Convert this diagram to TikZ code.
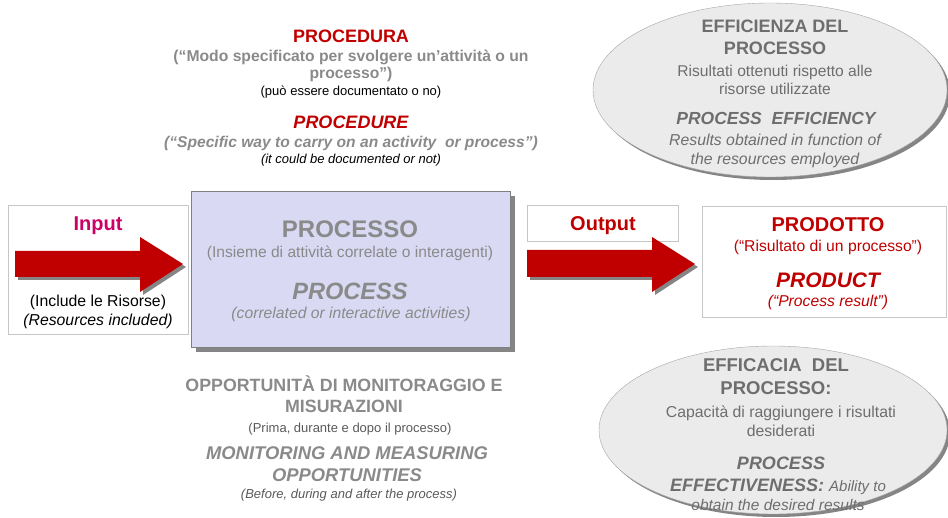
\documentclass[tikz,border=0pt]{standalone}
\usepackage{fontspec}
\setmainfont{Liberation Sans}

\definecolor{arrowred}{HTML}{C00000}
\definecolor{inmagenta}{HTML}{CC0066}
\definecolor{txtgray}{HTML}{8A8A8A}
\definecolor{ellgray}{HTML}{6E6E6E}
\definecolor{procfill}{HTML}{D9D9F3}
\definecolor{ellfill}{HTML}{EBEBEB}
\definecolor{shadowgray}{HTML}{858585}

\newcommand{\fs}[1]{\fontsize{#1}{#1}\selectfont}

\begin{document}
\begin{tikzpicture}[x=1pt,y=-1pt]
            \tikzset{txt/.style = {anchor=base,inner sep=0pt}}
            \tikzset{box/.style = {shape=rectangle,draw=gray!45,fill=white,inner sep=0pt}}
            \tikzset{bigarrow/.style = {fill=arrowred}}
            \tikzset{arrowshadow/.style = {fill=shadowgray}}
            \useasboundingbox (0,0) rectangle (948,518);
            \clip (0,0) rectangle (948,518);

            % ellipses
            \fill[shadowgray] (773,93) ellipse (177 and 87);
            \filldraw[draw=gray!70,fill=ellfill] (770,90) ellipse (177 and 87);
            \fill[shadowgray] (776,433) ellipse (174 and 84);
            \filldraw[draw=gray!70,fill=ellfill] (773,430) ellipse (174 and 84);

            % boxes
            \node[box] (inbox) at (98,269.5) [minimum width=180pt,minimum height=129pt] {};
            \node[box] (outbox) at (602.5,223) [minimum width=151pt,minimum height=36pt] {};
            \node[box] (prodbox) at (824,261.5) [minimum width=244pt,minimum height=111pt] {};
            \fill[shadowgray] (196,196) rectangle (515,352);
            \node[box,draw=gray,fill=procfill] (procbox) at (350.5,269) [minimum width=319pt,minimum height=156pt] {};

            % block arrows
            \fill[arrowshadow] (18,254) -- (143,254) -- (143,240) -- (186,267) -- (143,295) -- (143,280) -- (18,280) -- cycle;
            \fill[bigarrow] (15,251) -- (140,251) -- (140,237) -- (183,264) -- (140,292) -- (140,277) -- (15,277) -- cycle;
            \fill[arrowshadow] (530,253) -- (655,253) -- (655,240) -- (698,267) -- (655,295) -- (655,280) -- (530,280) -- cycle;
            \fill[bigarrow] (527,250) -- (652,250) -- (652,237) -- (695,264) -- (652,292) -- (652,277) -- (527,277) -- cycle;

            % procedura
            \node[txt,text=arrowred,font=\fs{18}\bfseries] (procA) at (351,43) {PROCEDURA};
            \node[txt,text=txtgray,font=\fs{15.7}\bfseries] (procB) at (351,62) {(“Modo specificato per svolgere un’attività o un};
            \node[txt,text=txtgray,font=\fs{15.7}\bfseries] (procC) at (351,79) {processo”)};
            \node[txt,font=\fs{13}] (procD) at (351,96) {(può essere documentato o no)};
            \node[txt,text=arrowred,font=\fs{18}\bfseries\itshape] (procE) at (351,129) {PROCEDURE};
            \node[txt,text=txtgray,font=\fs{15.6}\bfseries\itshape] (procF) at (351,148) {(“Specific way to carry on an activity\ \ or process”)};
            \node[txt,font=\fs{13}\itshape] (procG) at (351,164) {(it could be documented or not)};

            % efficienza
            \node[txt,text=ellgray,font=\fs{18}\bfseries] (effA) at (775,33) {EFFICIENZA DEL};
            \node[txt,text=ellgray,font=\fs{18}\bfseries] (effB) at (775,55) {PROCESSO};
            \node[txt,text=ellgray,font=\fs{15.6}] (effC) at (775,77) {Risultati ottenuti rispetto alle};
            \node[txt,text=ellgray,font=\fs{15.6}] (effD) at (775,95) {risorse utilizzate};
            \node[txt,text=ellgray,font=\fs{17.5}\bfseries\itshape] (effE) at (776,125) {PROCESS\ \ EFFICIENCY};
            \node[txt,text=ellgray,font=\fs{15.8}\itshape] (effF) at (775,146) {Results obtained in function of};
            \node[txt,text=ellgray,font=\fs{15.8}\itshape] (effG) at (775,165) {the resources employed};

            % input
            \node[txt,text=inmagenta,font=\fs{20}\bfseries] (inA) at (98,231) {Input};
            \node[txt,font=\fs{15.8}] (inB) at (98,307) {(Include le Risorse)};
            \node[txt,font=\fs{15.8}\itshape] (inC) at (98,326) {(Resources included)};

            % processo
            \node[txt,text=txtgray,font=\fs{24}\bfseries] (pA) at (350,238) {PROCESSO};
            \node[txt,text=txtgray,font=\fs{15.6}] (pB) at (350,258) {(Insieme di attività correlate o interagenti)};
            \node[txt,text=txtgray,font=\fs{23.6}\bfseries\itshape] (pC) at (350,300) {PROCESS};
            \node[txt,text=txtgray,font=\fs{15.7}\itshape] (pD) at (351,319) {(correlated or interactive activities)};

            % output, prodotto
            \node[txt,text=arrowred,font=\fs{20}\bfseries] (outA) at (603,231) {Output};
            \node[txt,text=arrowred,font=\fs{20}\bfseries] (prA) at (828,232) {PRODOTTO};
            \node[txt,text=arrowred,font=\fs{15.7}] (prB) at (828,252) {(“Risultato di un processo”)};
            \node[txt,text=arrowred,font=\fs{21}\bfseries\itshape] (prC) at (828,288) {PRODUCT};
            \node[txt,text=arrowred,font=\fs{15.7}\itshape] (prD) at (828,307) {(“Process result”)};

            % monitoraggio
            \node[txt,text=txtgray,font=\fs{17.8}\bfseries] (monA) at (344,392) {OPPORTUNITÀ DI MONITORAGGIO E};
            \node[txt,text=txtgray,font=\fs{17.8}\bfseries] (monB) at (344,413) {MISURAZIONI};
            \node[txt,text=gray!130,font=\fs{13}] (monC) at (350,432) {(Prima, durante e dopo il processo)};
            \node[txt,text=txtgray,font=\fs{18.4}\bfseries\itshape] (monD) at (347,460) {MONITORING AND MEASURING};
            \node[txt,text=txtgray,font=\fs{18.4}\bfseries\itshape] (monE) at (347,481) {OPPORTUNITIES};
            \node[txt,text=gray!130,font=\fs{13}\itshape] (monF) at (349,498) {(Before, during and after the process)};

            % efficacia
            \node[txt,text=ellgray,font=\fs{18.5}\bfseries] (efcA) at (776,372) {EFFICACIA\ \ DEL};
            \node[txt,text=ellgray,font=\fs{18.5}\bfseries] (efcB) at (776,395) {PROCESSO:};
            \node[txt,text=ellgray,font=\fs{15.8}] (efcC) at (781,418) {Capacità di raggiungere i risultati};
            \node[txt,text=ellgray,font=\fs{15.8}] (efcD) at (781,437) {desiderati};
            \node[txt,text=ellgray,font=\fs{18}\bfseries\itshape] (efcE) at (781,469) {PROCESS};
            \node[txt,text=ellgray,font=\fs{18}\bfseries\itshape] (efcF) at (778,491) {EFFECTIVENESS: {\fs{15}\mdseries Ability to}};
            \node[txt,text=ellgray,font=\fs{15.5}\itshape] (efcG) at (778,510) {obtain the desired results};
        \end{tikzpicture}
\end{document}
